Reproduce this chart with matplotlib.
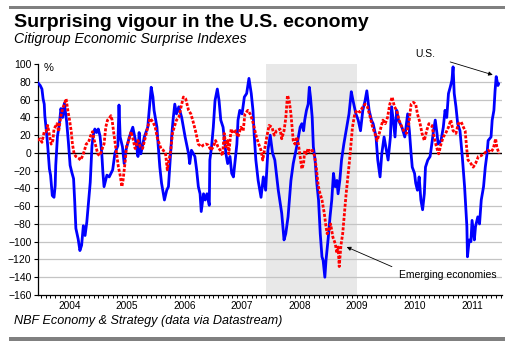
import numpy as np
import matplotlib
matplotlib.use("Agg")
import matplotlib.pyplot as plt
from matplotlib.patches import Rectangle

plt.rcParams['font.family'] = ['Liberation Sans', 'DejaVu Sans']

# U.S. Citigroup Economic Surprise Index (decimal year, index value)
us_t = [2003.95, 2003.99, 2004.02, 2004.04, 2004.06, 2004.07, 2004.10, 2004.12, 2004.15, 2004.17,
        2004.20, 2004.23, 2004.25, 2004.26, 2004.29, 2004.32, 2004.35, 2004.38, 2004.41, 2004.45,
        2004.48, 2004.51, 2004.54, 2004.57, 2004.59, 2004.61, 2004.65, 2004.68, 2004.71, 2004.74,
        2004.77, 2004.80, 2004.83, 2004.86, 2004.89, 2004.91, 2004.94, 2004.97, 2005.00, 2005.03,
        2005.06, 2005.08, 2005.10, 2005.15, 2005.19, 2005.25, 2005.29, 2005.34, 2005.36, 2005.38,
        2005.42, 2005.45, 2005.48, 2005.54, 2005.60, 2005.66, 2005.69, 2005.71, 2005.74, 2005.80,
        2005.86, 2005.89, 2005.92, 2005.95, 2005.97, 2006.02, 2006.04, 2006.07, 2006.10, 2006.15,
        2006.19, 2006.22, 2006.25, 2006.28, 2006.30, 2006.33, 2006.36, 2006.40, 2006.45, 2006.51,
        2006.57, 2006.59, 2006.62, 2006.68, 2006.71, 2006.74, 2006.77, 2006.79, 2006.83, 2006.86,
        2006.89, 2006.93, 2006.94, 2006.97, 2007.00, 2007.03, 2007.07, 2007.10, 2007.13, 2007.17,
        2007.22, 2007.25, 2007.29, 2007.32, 2007.35, 2007.38, 2007.41, 2007.43, 2007.46, 2007.50,
        2007.54, 2007.58, 2007.62, 2007.66, 2007.69, 2007.71, 2007.74, 2007.78, 2007.83, 2007.87,
        2007.91, 2007.95, 2007.99, 2008.03, 2008.07, 2008.10, 2008.13, 2008.19, 2008.23, 2008.26,
        2008.30, 2008.35, 2008.39, 2008.45, 2008.51, 2008.54, 2008.57, 2008.59, 2008.62, 2008.65,
        2008.67, 2008.69, 2008.72, 2008.74, 2008.77, 2008.80, 2008.83, 2008.86, 2008.89, 2008.91,
        2008.94, 2008.96, 2009.00, 2009.03, 2009.06, 2009.09, 2009.12, 2009.15, 2009.17, 2009.20,
        2009.23, 2009.27, 2009.32, 2009.36, 2009.40, 2009.43, 2009.48, 2009.52, 2009.56, 2009.60,
        2009.64, 2009.67, 2009.71, 2009.75, 2009.78, 2009.83, 2009.86, 2009.90, 2009.93, 2009.97,
        2010.00, 2010.04, 2010.08, 2010.10, 2010.13, 2010.16, 2010.19, 2010.22, 2010.28, 2010.33,
        2010.38, 2010.41, 2010.44, 2010.46, 2010.50, 2010.52, 2010.55, 2010.58, 2010.61, 2010.64,
        2010.67, 2010.69, 2010.73, 2010.77, 2010.80, 2010.83, 2010.86, 2010.89, 2010.91, 2010.96,
        2011.00, 2011.03, 2011.06, 2011.09, 2011.12, 2011.15, 2011.17, 2011.19, 2011.22, 2011.25,
        2011.29, 2011.33, 2011.37, 2011.39, 2011.41, 2011.42, 2011.45, 2011.48, 2011.50, 2011.54,
        2011.56, 2011.60, 2011.63, 2011.66, 2011.70, 2011.73, 2011.76, 2011.78, 2011.83, 2011.85,
        2011.88, 2011.90, 2011.92, 2011.95, 2011.96]
us_v = [79, 76, 72, 61, 55, 42, 23, 8, -18, -25,
        -48, -50, -37, -14, 19, 31, 50, 40, 56, 35,
        12, -14, -22, -29, -55, -85, -97, -110, -104, -82,
        -93, -78, -55, -33, 8, 19, 27, 23, 27, 19,
        0, -22, -38, -25, -27, -19, 0, 8, 54, 18,
        7, -12, 3, 18, 29, 10, -4, 23, -1, 18,
        29, 52, 74, 63, 48, 29, 10, -16, -34, -53,
        -42, -38, -8, 22, 37, 55, 44, 52, 40, 18,
        -1, -12, 3, -4, -19, -38, -46, -66, -46, -53,
        -46, -59, -8, 7, 29, 59, 72, 59, 37, 29,
        -1, -12, -4, -23, -27, -8, 10, 37, 48, 44,
        63, 67, 84, 67, 48, 22, -8, -31, -50, -27,
        -42, 3, 20, 0, -8, -25, -42, -68, -98, -91,
        -72, -31, -12, 7, 29, 33, 25, 37, 48, 55,
        74, 63, 40, 7, -8, -34, -53, -91, -117, -121,
        -140, -121, -95, -72, -53, -23, -38, -31, -46, -31,
        -8, 10, 29, 44, 69, 59, 44, 37, 25, 48,
        59, 70, 48, 37, 33, 18, -8, -27, -1, 18,
        7, -8, 18, 52, 37, 18, 48, 37, 29, 18,
        44, 25, -1, -16, -23, -34, -42, -27, -53, -64,
        -46, -16, -8, -4, 10, 25, 37, 22, 10, 14,
        29, 48, 40, 67, 74, 82, 97, 67, 52, 33,
        25, -4, -38, -61, -83, -117, -98, -100, -76, -98,
        -83, -72, -80, -53, -38, -16, -1, 14, 18, 37,
        48, 70, 86, 76, 78]

# Emerging economies surprise index
em_t = [2003.95, 2003.99, 2004.02, 2004.06, 2004.09, 2004.12, 2004.15, 2004.18, 2004.21, 2004.23,
        2004.28, 2004.31, 2004.35, 2004.38, 2004.41, 2004.44, 2004.47, 2004.50, 2004.53, 2004.55,
        2004.58, 2004.61, 2004.66, 2004.69, 2004.73, 2004.76, 2004.79, 2004.83, 2004.87, 2004.90,
        2004.93, 2004.96, 2004.99, 2005.02, 2005.05, 2005.08, 2005.10, 2005.13, 2005.16, 2005.19,
        2005.22, 2005.24, 2005.27, 2005.31, 2005.35, 2005.38, 2005.41, 2005.43, 2005.47, 2005.49,
        2005.53, 2005.57, 2005.61, 2005.64, 2005.69, 2005.73, 2005.77, 2005.82, 2005.86, 2005.90,
        2005.95, 2005.99, 2006.03, 2006.09, 2006.13, 2006.17, 2006.20, 2006.23, 2006.26, 2006.29,
        2006.32, 2006.36, 2006.40, 2006.44, 2006.48, 2006.52, 2006.57, 2006.61, 2006.65, 2006.69,
        2006.74, 2006.79, 2006.83, 2006.87, 2006.91, 2006.96, 2007.00, 2007.04, 2007.08, 2007.12,
        2007.16, 2007.19, 2007.22, 2007.25, 2007.27, 2007.31, 2007.35, 2007.39, 2007.43, 2007.48,
        2007.52, 2007.55, 2007.60, 2007.64, 2007.68, 2007.71, 2007.75, 2007.79, 2007.83, 2007.86,
        2007.90, 2007.93, 2007.97, 2008.02, 2008.06, 2008.10, 2008.16, 2008.19, 2008.23, 2008.26,
        2008.29, 2008.32, 2008.35, 2008.37, 2008.39, 2008.42, 2008.45, 2008.48, 2008.51, 2008.54,
        2008.57, 2008.59, 2008.62, 2008.65, 2008.68, 2008.72, 2008.76, 2008.79, 2008.82, 2008.84,
        2008.89, 2008.93, 2008.96, 2008.98, 2009.01, 2009.04, 2009.08, 2009.12, 2009.15, 2009.17,
        2009.19, 2009.22, 2009.25, 2009.28, 2009.31, 2009.34, 2009.37, 2009.40, 2009.42, 2009.46,
        2009.50, 2009.55, 2009.60, 2009.64, 2009.68, 2009.73, 2009.77, 2009.81, 2009.85, 2009.90,
        2009.95, 2009.99, 2010.03, 2010.07, 2010.11, 2010.15, 2010.19, 2010.23, 2010.28, 2010.32,
        2010.36, 2010.40, 2010.44, 2010.48, 2010.52, 2010.55, 2010.59, 2010.63, 2010.67, 2010.71,
        2010.75, 2010.80, 2010.84, 2010.88, 2010.92, 2010.96, 2011.00, 2011.04, 2011.09, 2011.13,
        2011.17, 2011.22, 2011.26, 2011.31, 2011.35, 2011.38, 2011.41, 2011.43, 2011.48, 2011.52,
        2011.56, 2011.61, 2011.66, 2011.70, 2011.74, 2011.78, 2011.83, 2011.87, 2011.91, 2011.93,
        2011.97]
em_v = [14, 16, 12, 24, 24, 31, 20, 10, 14, 27,
        33, 24, 42, 50, 55, 61, 48, 37, 24, 10,
        -1, -4, -6, -8, -3, 3, 10, 12, 20, 24,
        14, 7, -1, -3, 1, 7, 10, 29, 37, 39,
        42, 37, 22, 3, -16, -25, -38, -31, -8, 7,
        14, 24, 14, 5, 14, 7, 5, 18, 29, 39,
        35, 29, 16, 5, 3, -1, -19, -8, 3, 22,
        29, 37, 40, 52, 63, 61, 48, 44, 35, 25,
        10, 7, 9, 10, 9, 3, 7, 14, 7, 3,
        -3, 22, 7, 14, -1, 27, 22, 25, 18, 29,
        25, 44, 48, 44, 37, 29, 18, 10, 3, -8,
        7, 18, 31, 29, 20, 25, 27, 16, 25, 39,
        65, 59, 44, 29, 14, 10, 18, 10, -4, -18,
        -12, 3, -1, 5, 1, 3, -3, -16, -34, -42,
        -53, -68, -83, -91, -87, -80, -95, -102, -113, -106,
        -128, -104, -91, -68, -46, -27, -8, 14, 29, 44,
        48, 46, 52, 55, 52, 40, 29, 22, 14, 25,
        37, 33, 40, 55, 63, 52, 48, 37, 29, 24,
        22, 33, 55, 57, 55, 44, 35, 22, 14, 25,
        33, 31, 18, 7, -1, 10, 18, 22, 29, 37,
        25, 22, 33, 35, 29, 25, 3, -8, -12, -16,
        -12, -4, -3, -1, 1, 3, 1, 5, 16, 7,
        -1]

years = list(range(2004, 2012))
recession = (2007.92, 2009.5)

fig = plt.figure(figsize=(5.17, 3.47), dpi=100)
ax = fig.add_axes([0.0729, 0.150, 0.898, 0.665])

ax.axvspan(recession[0], recession[1], color='#e8e8e8', zorder=0, lw=0)
for yv in range(-140, 100, 20):
    if yv != 0:
        ax.axhline(yv, color='#c4c4c4', lw=0.9, zorder=1)
ax.axhline(0, color='black', lw=1.0, zorder=2)

ax.plot(us_t, us_v, color='#0000ff', lw=2.0, zorder=3, solid_joinstyle='round')
ax.plot(em_t, em_v, color='#ff0000', lw=2.0, zorder=4, linestyle=(0, (1.1, 0.6)))

ax.set_xlim(2003.946, 2012.02)
ax.set_ylim(-160, 100)
ax.set_yticks(range(-160, 101, 20))
ax.tick_params(axis='y', direction='out', length=3, width=0.8, labelsize=7.5, pad=1.5)

ax.xaxis.remove_overlapping_locs = False
ax.set_xticks([y + 0.5 for y in years])
ax.set_xticklabels([str(y) for y in years])
ax.set_xticks([2004 + k / 12 for k in range(0, 97)], minor=True)
ax.tick_params(axis='x', which='major', length=0, labelsize=7.3, pad=4)
ax.tick_params(axis='x', which='minor', direction='out', length=2.5, width=0.7)

for s in ['top', 'right']:
    ax.spines[s].set_visible(False)
for s in ['left', 'bottom']:
    ax.spines[s].set_linewidth(0.9)

ax.text(2004.05, 96, '%', fontsize=8, va='center', ha='left')

ax.annotate('U.S.', xy=(2011.86, 88), xytext=(2010.69, 111), fontsize=7.5,
            ha='center', va='center', annotation_clip=False,
            arrowprops=dict(arrowstyle='-|>', color='black', lw=0.6,
                            mutation_scale=6, shrinkA=9, shrinkB=0))
ax.annotate('Emerging economies', xy=(2009.32, -106), xytext=(2011.07, -137), fontsize=7.5,
            ha='center', va='center', annotation_clip=False,
            arrowprops=dict(arrowstyle='-|>', color='black', lw=0.6,
                            mutation_scale=6, shrinkA=3, shrinkB=0,
                            relpos=(0, 1)))

fig.text(14 / 517, 1 - 26.7 / 347, 'Surprising vigour in the U.S. economy',
         fontsize=14, fontweight='bold', va='baseline', ha='left')
fig.text(14 / 517, 1 - 42.7 / 347, 'Citigroup Economic Surprise Indexes',
         fontsize=10.2, style='italic', va='baseline', ha='left')
fig.text(14 / 517, 1 - 324.3 / 347, 'NBF Economy & Strategy (data via Datastream)',
         fontsize=9.1, style='italic', va='baseline', ha='left')

fig.add_artist(Rectangle((9 / 517, 1 - 8.7 / 347), 496 / 517, 3 / 347,
                         transform=fig.transFigure, color='#808080', lw=0))
fig.add_artist(Rectangle((9 / 517, 1 - 340.5 / 347), 496 / 517, 3.5 / 347,
                         transform=fig.transFigure, color='#808080', lw=0))

fig.savefig('out.png', dpi=100)
